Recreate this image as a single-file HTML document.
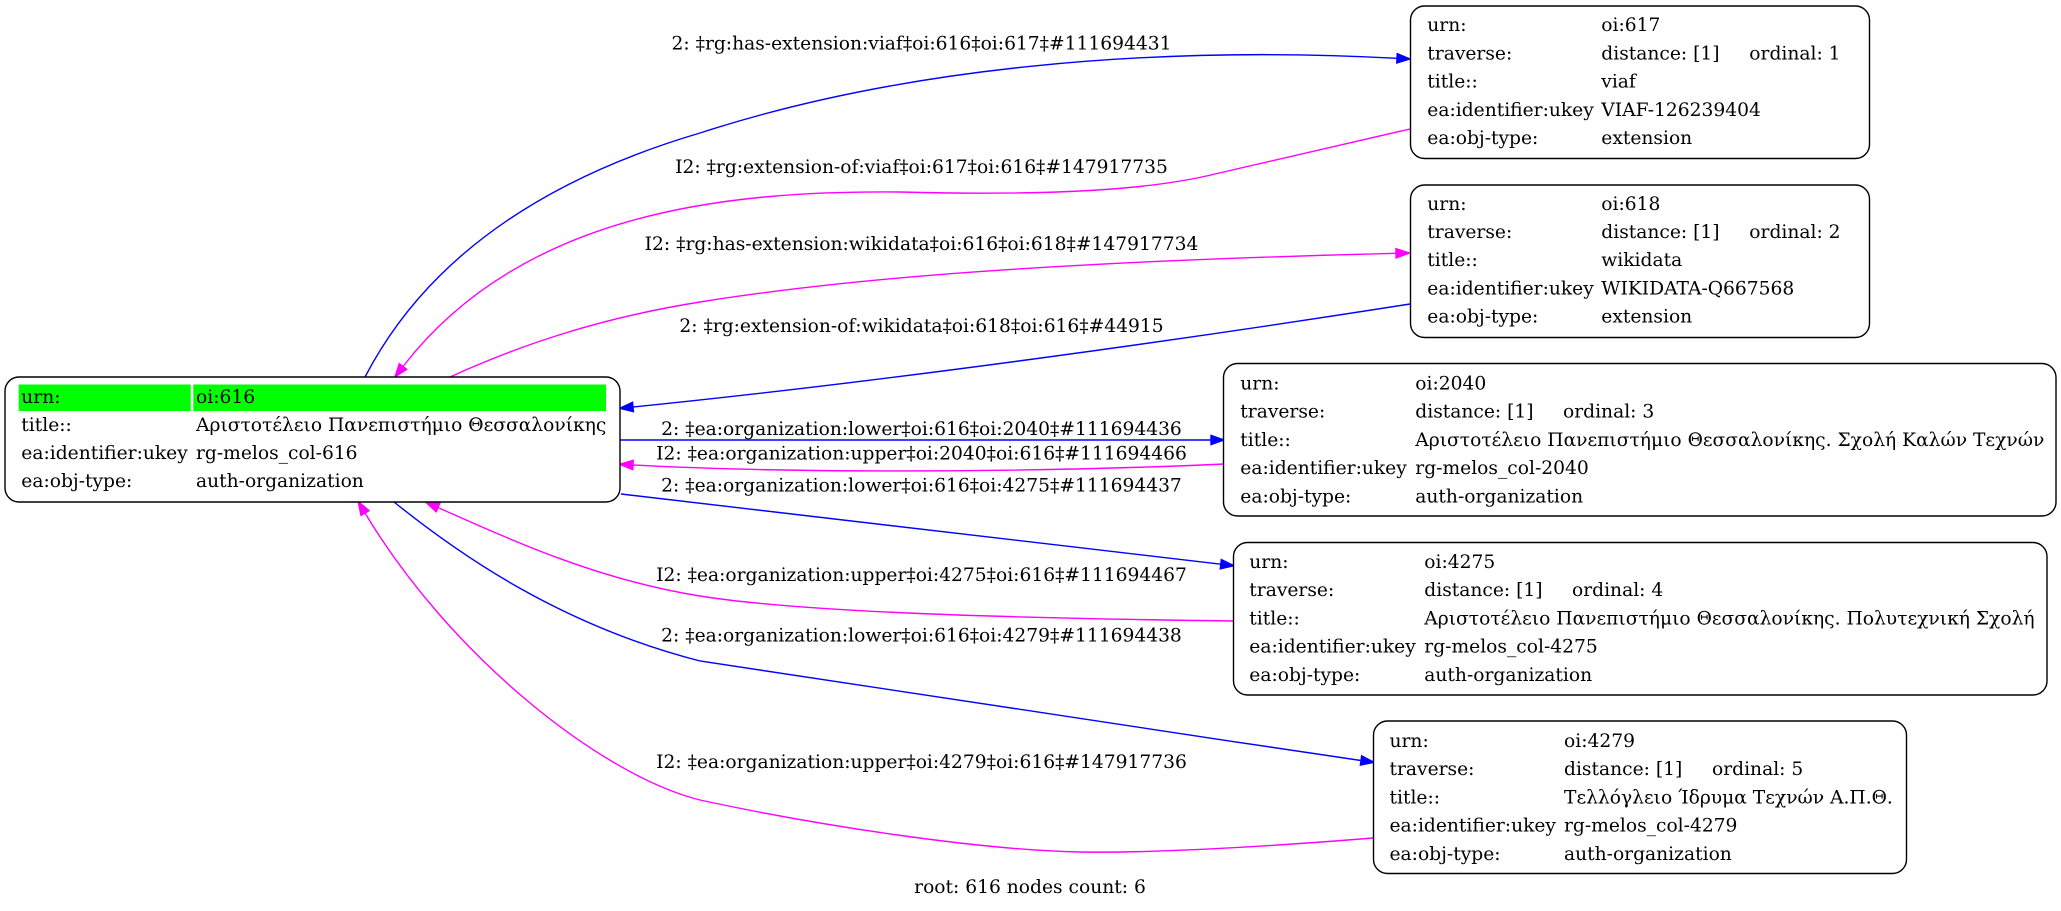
<!DOCTYPE html>
<html>
<head>
<meta charset="utf-8">
<style>
  html, body { margin: 0; padding: 0; background: #ffffff; }
  svg { display: block; }
  text { font-family: "DejaVu Serif", "Liberation Serif", serif; font-size: 18.67px; fill: #000; }
</style>
</head>
<body>
<svg width="2061" height="911" viewBox="0 0 2061 911" xmlns="http://www.w3.org/2000/svg">
  <rect x="0" y="0" width="2061" height="911" fill="#ffffff"/>

  <!-- ================= EDGES ================= -->
  <g fill="none" stroke-width="1.4">
    <!-- 1 blue 616 -> 617 -->
    <path stroke="#0000ff" d="M365,377 C405,300 490,195 700,133 C900,68 1150,45 1397,58.3"/>
    <!-- 2 magenta 617 -> 616 -->
    <path stroke="#ff00ff" d="M1410,129 L1215,174 C1150,190 1050,196 900,192 C720,190 520,215 403,366.5"/>
    <!-- 3 magenta 616 -> 618 -->
    <path stroke="#ff00ff" d="M450,377 C520,345 600,318 700,302 C850,278 1050,262 1396,253.3"/>
    <!-- 4 blue 618 -> 616 -->
    <path stroke="#0000ff" d="M1410,304 C1200,337 900,380 633,407"/>
    <!-- 5 blue 616 -> 2040 -->
    <path stroke="#0000ff" d="M620,440 L1211,440"/>
    <!-- 6 magenta 2040 -> 616 -->
    <path stroke="#ff00ff" d="M1224,464 C1050,472 800,474 633,465"/>
    <!-- 7 blue 616 -> 4275 -->
    <path stroke="#0000ff" d="M621,494 L1220.8,564.2"/>
    <!-- 8 magenta 4275 -> 616 -->
    <path stroke="#ff00ff" d="M1233,621 C1000,618 800,612 700,596 C600,580 520,544 438,507.5"/>
    <!-- 9 blue 616 -> 4279 -->
    <path stroke="#0000ff" d="M394,502 C460,555 560,625 700,661 C800,676 1100,722 1361,760.5"/>
    <!-- 10 magenta 4279 -> 616 -->
    <path stroke="#ff00ff" d="M1373,838 C1250,848 1150,853 1080,852 C980,850 820,826 700,800 C600,775 450,655 365,513"/>
  </g>

  <!-- arrowheads -->
  <g stroke-width="1.4">
    <polygon fill="#0000ff" stroke="#0000ff" points="1410,59 1396.75,62.96 1397.25,53.64"/>
    <polygon fill="#ff00ff" stroke="#ff00ff" points="394.9,377 399.3,363.65 406.7,369.35"/>
    <polygon fill="#ff00ff" stroke="#ff00ff" points="1409.5,253 1396.1,257.97 1395.9,248.63"/>
    <polygon fill="#0000ff" stroke="#0000ff" points="619.8,408.3 632.54,402.35 633.46,411.65"/>
    <polygon fill="#0000ff" stroke="#0000ff" points="1224,440 1211,444.67 1211,435.33"/>
    <polygon fill="#ff00ff" stroke="#ff00ff" points="619.7,464.3 633.25,460.34 632.75,469.66"/>
    <polygon fill="#0000ff" stroke="#0000ff" points="1234,565.7 1220.27,568.84 1221.33,559.56"/>
    <polygon fill="#ff00ff" stroke="#ff00ff" points="425.8,502.2 439.86,503.22 436.14,511.78"/>
    <polygon fill="#0000ff" stroke="#0000ff" points="1374,762.3 1360.36,765.13 1361.64,755.87"/>
    <polygon fill="#ff00ff" stroke="#ff00ff" points="358.2,501.6 369,510.6 361,515.4"/>
  </g>

  <!-- edge labels -->
  <g text-anchor="middle">
    <text x="921.5" y="49.5">2: ‡rg:has-extension:viaf‡oi:616‡oi:617‡#111694431</text>
    <text x="921.5" y="173.2">I2: ‡rg:extension-of:viaf‡oi:617‡oi:616‡#147917735</text>
    <text x="921.5" y="249.8">I2: ‡rg:has-extension:wikidata‡oi:616‡oi:618‡#147917734</text>
    <text x="921.5" y="332.2">2: ‡rg:extension-of:wikidata‡oi:618‡oi:616‡#44915</text>
    <text x="921.5" y="434.8">2: ‡ea:organization:lower‡oi:616‡oi:2040‡#111694436</text>
    <text x="921.5" y="459.5">I2: ‡ea:organization:upper‡oi:2040‡oi:616‡#111694466</text>
    <text x="921.5" y="491.5">2: ‡ea:organization:lower‡oi:616‡oi:4275‡#111694437</text>
    <text x="921.5" y="581.2">I2: ‡ea:organization:upper‡oi:4275‡oi:616‡#111694467</text>
    <text x="921.5" y="641.5">2: ‡ea:organization:lower‡oi:616‡oi:4279‡#111694438</text>
    <text x="921.5" y="768">I2: ‡ea:organization:upper‡oi:4279‡oi:616‡#147917736</text>
  </g>

  <!-- ================= NODES ================= -->
  <g fill="#ffffff" stroke="#000000" stroke-width="1.4">
    <rect x="5" y="377" width="615" height="125" rx="14" ry="14"/>
    <rect x="1410.5" y="6" width="459" height="152.5" rx="14" ry="14"/>
    <rect x="1410.5" y="185" width="459" height="152.5" rx="14" ry="14"/>
    <rect x="1223.5" y="363.5" width="832.5" height="152.5" rx="14" ry="14"/>
    <rect x="1233.5" y="542.5" width="813.5" height="152.5" rx="14" ry="14"/>
    <rect x="1373.5" y="721" width="533" height="152.5" rx="14" ry="14"/>
  </g>

  <!-- node 616 -->
  <rect x="18.7" y="384.5" width="172" height="26.5" fill="#00ff00"/>
  <rect x="193.3" y="384.5" width="412.7" height="26.5" fill="#00ff00"/>
  <g>
    <text x="21.3" y="402.8">urn:</text>
    <text x="196" y="402.8">oi:616</text>
    <text x="21.3" y="431">title::</text>
    <text x="196" y="431">Αριστοτέλειο Πανεπιστήμιο Θεσσαλονίκης</text>
    <text x="21.3" y="459">ea:identifier:ukey</text>
    <text x="196" y="459">rg-melos_col-616</text>
    <text x="21.3" y="487">ea:obj-type:</text>
    <text x="196" y="487">auth-organization</text>
  </g>

  <!-- node 617 -->
  <g>
    <text x="1427.3" y="31.2">urn:</text>
    <text x="1601.3" y="31.2">oi:617</text>
    <text x="1427.3" y="59.4">traverse:</text>
    <text x="1601.3" y="59.4">distance: [1]</text>
    <text x="1749.3" y="59.4">ordinal: 1</text>
    <text x="1427.3" y="87.6">title::</text>
    <text x="1601.3" y="87.6">viaf</text>
    <text x="1427.3" y="115.8">ea:identifier:ukey</text>
    <text x="1601.3" y="115.8">VIAF-126239404</text>
    <text x="1427.3" y="144">ea:obj-type:</text>
    <text x="1601.3" y="144">extension</text>
  </g>

  <!-- node 618 -->
  <g>
    <text x="1427.3" y="209.8">urn:</text>
    <text x="1601.3" y="209.8">oi:618</text>
    <text x="1427.3" y="238">traverse:</text>
    <text x="1601.3" y="238">distance: [1]</text>
    <text x="1749.3" y="238">ordinal: 2</text>
    <text x="1427.3" y="266.2">title::</text>
    <text x="1601.3" y="266.2">wikidata</text>
    <text x="1427.3" y="294.4">ea:identifier:ukey</text>
    <text x="1601.3" y="294.4">WIKIDATA-Q667568</text>
    <text x="1427.3" y="322.6">ea:obj-type:</text>
    <text x="1601.3" y="322.6">extension</text>
  </g>

  <!-- node 2040 -->
  <g>
    <text x="1240.3" y="389.5">urn:</text>
    <text x="1415.3" y="389.5">oi:2040</text>
    <text x="1240.3" y="417.7">traverse:</text>
    <text x="1415.3" y="417.7">distance: [1]</text>
    <text x="1563" y="417.7">ordinal: 3</text>
    <text x="1240.3" y="445.9">title::</text>
    <text x="1415.3" y="445.9">Αριστοτέλειο Πανεπιστήμιο Θεσσαλονίκης. Σχολή Καλών Τεχνών</text>
    <text x="1240.3" y="474.1">ea:identifier:ukey</text>
    <text x="1415.3" y="474.1">rg-melos_col-2040</text>
    <text x="1240.3" y="502.3">ea:obj-type:</text>
    <text x="1415.3" y="502.3">auth-organization</text>
  </g>

  <!-- node 4275 -->
  <g>
    <text x="1249.3" y="568">urn:</text>
    <text x="1424.3" y="568">oi:4275</text>
    <text x="1249.3" y="596.2">traverse:</text>
    <text x="1424.3" y="596.2">distance: [1]</text>
    <text x="1572" y="596.2">ordinal: 4</text>
    <text x="1249.3" y="624.4">title::</text>
    <text x="1424.3" y="624.4">Αριστοτέλειο Πανεπιστήμιο Θεσσαλονίκης. Πολυτεχνική Σχολή</text>
    <text x="1249.3" y="652.6">ea:identifier:ukey</text>
    <text x="1424.3" y="652.6">rg-melos_col-4275</text>
    <text x="1249.3" y="680.8">ea:obj-type:</text>
    <text x="1424.3" y="680.8">auth-organization</text>
  </g>

  <!-- node 4279 -->
  <g>
    <text x="1389.5" y="747">urn:</text>
    <text x="1564" y="747">oi:4279</text>
    <text x="1389.5" y="775.2">traverse:</text>
    <text x="1564" y="775.2">distance: [1]</text>
    <text x="1712" y="775.2">ordinal: 5</text>
    <text x="1389.5" y="803.4">title::</text>
    <text x="1564" y="803.4">Τελλόγλειο Ίδρυμα Τεχνών Α.Π.Θ.</text>
    <text x="1389.5" y="831.6">ea:identifier:ukey</text>
    <text x="1564" y="831.6">rg-melos_col-4279</text>
    <text x="1389.5" y="859.8">ea:obj-type:</text>
    <text x="1564" y="859.8">auth-organization</text>
  </g>

  <!-- caption -->
  <text x="1030" y="893" text-anchor="middle">root: 616 nodes count: 6</text>
</svg>
</body>
</html>
